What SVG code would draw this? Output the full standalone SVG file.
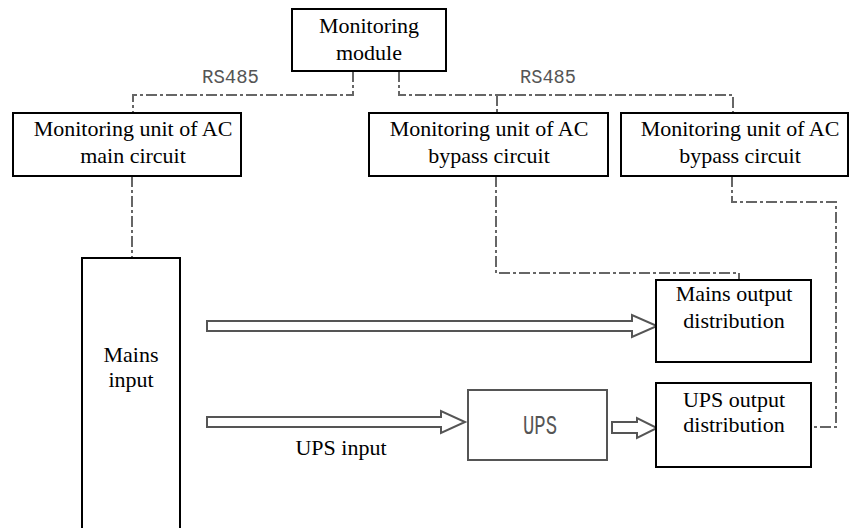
<svg xmlns="http://www.w3.org/2000/svg" width="849" height="528" viewBox="0 0 849 528">
  <style>
    .box { fill: #fff; stroke: #000; stroke-width: 2; }
    .ups { fill: #fff; stroke: #555; stroke-width: 2; }
    .arrow { fill: #fff; stroke: #555; stroke-width: 2; stroke-linejoin: miter; }
    .bus { fill: none; stroke: #666; stroke-width: 2; stroke-dasharray: 11 3 3 3; }
    .lbl { font-family: "Liberation Serif", "Times New Roman", serif; font-size: 22px; fill: #000; text-anchor: middle; }
    .mono { font-family: "Liberation Mono", "Courier New", monospace; fill: #555; }
  </style>
  <rect width="849" height="528" fill="#fff"/>

  <!-- RS485 signal wiring and power flow arrows -->
  <g id="connectors">
    <path class="bus" d="M353 71 V95 H133 V113"/>
    <path class="bus" d="M399 71 V95 H733 V113"/>
    <path class="bus" d="M497 95 V113"/>
    <path class="bus" d="M132 176 V258"/>
    <path class="bus" d="M496 176 V273 H739 V280"/>
    <path class="bus" d="M732 176 V202 H836 V427 H811"/>
    <polygon class="arrow" points="207,321 632,321 632,315 657,326 632,337 632,331 207,331"/>
    <polygon class="arrow" points="207,417 441,417 441,411 465,422 441,433 441,427 207,427"/>
    <polygon class="arrow" points="612,422 637,422 637,418 657,428 637,438 637,433 612,433"/>
    <text class="mono" x="202" y="83" font-size="20" textLength="57" lengthAdjust="spacingAndGlyphs">RS485</text>
    <text class="mono" x="520" y="83" font-size="20" textLength="56" lengthAdjust="spacingAndGlyphs">RS485</text>
    <text class="lbl" x="341" y="455">UPS input</text>
  </g>

  <g id="monitoring-module">
    <rect class="box" x="292" y="9" width="154" height="62"/>
    <text class="lbl" x="369" y="33">Monitoring</text>
    <text class="lbl" x="369" y="60">module</text>
  </g>

  <g id="ac-main-unit">
    <rect class="box" x="13" y="113" width="228" height="63"/>
    <text class="lbl" x="133" y="136">Monitoring unit of AC</text>
    <text class="lbl" x="133" y="163">main circuit</text>
  </g>

  <g id="ac-bypass-unit-1">
    <rect class="box" x="369" y="113" width="239" height="63"/>
    <text class="lbl" x="489" y="136">Monitoring unit of AC</text>
    <text class="lbl" x="489" y="163">bypass circuit</text>
  </g>

  <g id="ac-bypass-unit-2">
    <rect class="box" x="621" y="113" width="227" height="63"/>
    <text class="lbl" x="740" y="136">Monitoring unit of AC</text>
    <text class="lbl" x="740" y="163">bypass circuit</text>
  </g>

  <g id="mains-input">
    <rect class="box" x="82" y="258" width="98" height="280"/>
    <text class="lbl" x="131" y="362">Mains</text>
    <text class="lbl" x="131" y="387">input</text>
  </g>

  <g id="mains-output">
    <rect class="box" x="656" y="280" width="155" height="82"/>
    <text class="lbl" x="734" y="301">Mains output</text>
    <text class="lbl" x="734" y="328">distribution</text>
  </g>

  <g id="ups">
    <rect class="ups" x="468" y="390" width="139" height="70"/>
    <text class="mono" x="523" y="434" font-size="27" textLength="34" lengthAdjust="spacingAndGlyphs" fill="#444">UPS</text>
  </g>

  <g id="ups-output">
    <rect class="box" x="656" y="383" width="155" height="84"/>
    <text class="lbl" x="734" y="407">UPS output</text>
    <text class="lbl" x="734" y="432">distribution</text>
  </g>
</svg>
